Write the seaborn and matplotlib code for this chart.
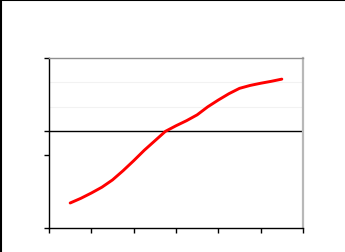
import matplotlib
matplotlib.use("Agg")
import matplotlib.pyplot as plt
import seaborn as sns
import pandas as pd
from matplotlib.lines import Line2D

# Data
x_vals = [0.5, 0.75, 1.0, 1.25, 1.5, 1.75, 2.0, 2.25, 2.5, 2.75, 3.0,
          3.25, 3.5, 3.75, 4.0, 4.25, 4.5, 4.75, 5.0, 5.25, 5.5]
y_vals = [1.03, 1.22, 1.44, 1.68, 1.98, 2.36, 2.77, 3.20, 3.59, 3.98, 4.21,
          4.42, 4.66, 4.99, 5.27, 5.53, 5.75, 5.87, 5.96, 6.04, 6.13]
x_ticks = [0, 1, 2, 3, 4, 5, 6]
y_ticks = [0, 3, 4, 7]
grid_levels = [5, 6]
zero_level = 4

df = pd.DataFrame({"x": x_vals, "y": y_vals})

sns.set_style("white")
fig = plt.figure(figsize=(3.45, 2.53), dpi=100)
ax = fig.add_axes([49/345, 24/253, 254/345, 170/253])

for g in grid_levels:
    ax.axhline(g, color="#f2f2f2", lw=0.8, zorder=0)
ax.axhline(zero_level, color="black", lw=1.0, zorder=1)

sns.lineplot(data=df, x="x", y="y", ax=ax, color="#ff0000", lw=2.1, zorder=3)
for ln in ax.get_lines():
    ln.set_solid_joinstyle("round")

ax.set_xlim(0, 6)
ax.set_ylim(0, 7)
ax.set_xticks(x_ticks)
ax.set_yticks(y_ticks)
ax.set_xticklabels([])
ax.set_yticklabels([])
ax.set_xlabel("")
ax.set_ylabel("")
ax.tick_params(axis="both", direction="out", length=3.5, width=1.0,
               color="black", left=True, bottom=True)

ax.spines["left"].set_color("black")
ax.spines["left"].set_linewidth(1.0)
ax.spines["bottom"].set_color("black")
ax.spines["bottom"].set_linewidth(1.0)
ax.spines["top"].set_color("#909090")
ax.spines["top"].set_linewidth(1.0)
ax.spines["right"].set_color("#b8b8b8")
ax.spines["right"].set_linewidth(1.6)

# figure border on left and top
fig.add_artist(Line2D([0.003, 0.003], [0, 1], transform=fig.transFigure,
                      color="black", lw=1.5))
fig.add_artist(Line2D([0, 1], [0.996, 0.996], transform=fig.transFigure,
                      color="black", lw=1.5))

fig.savefig("out.png", dpi=100)
